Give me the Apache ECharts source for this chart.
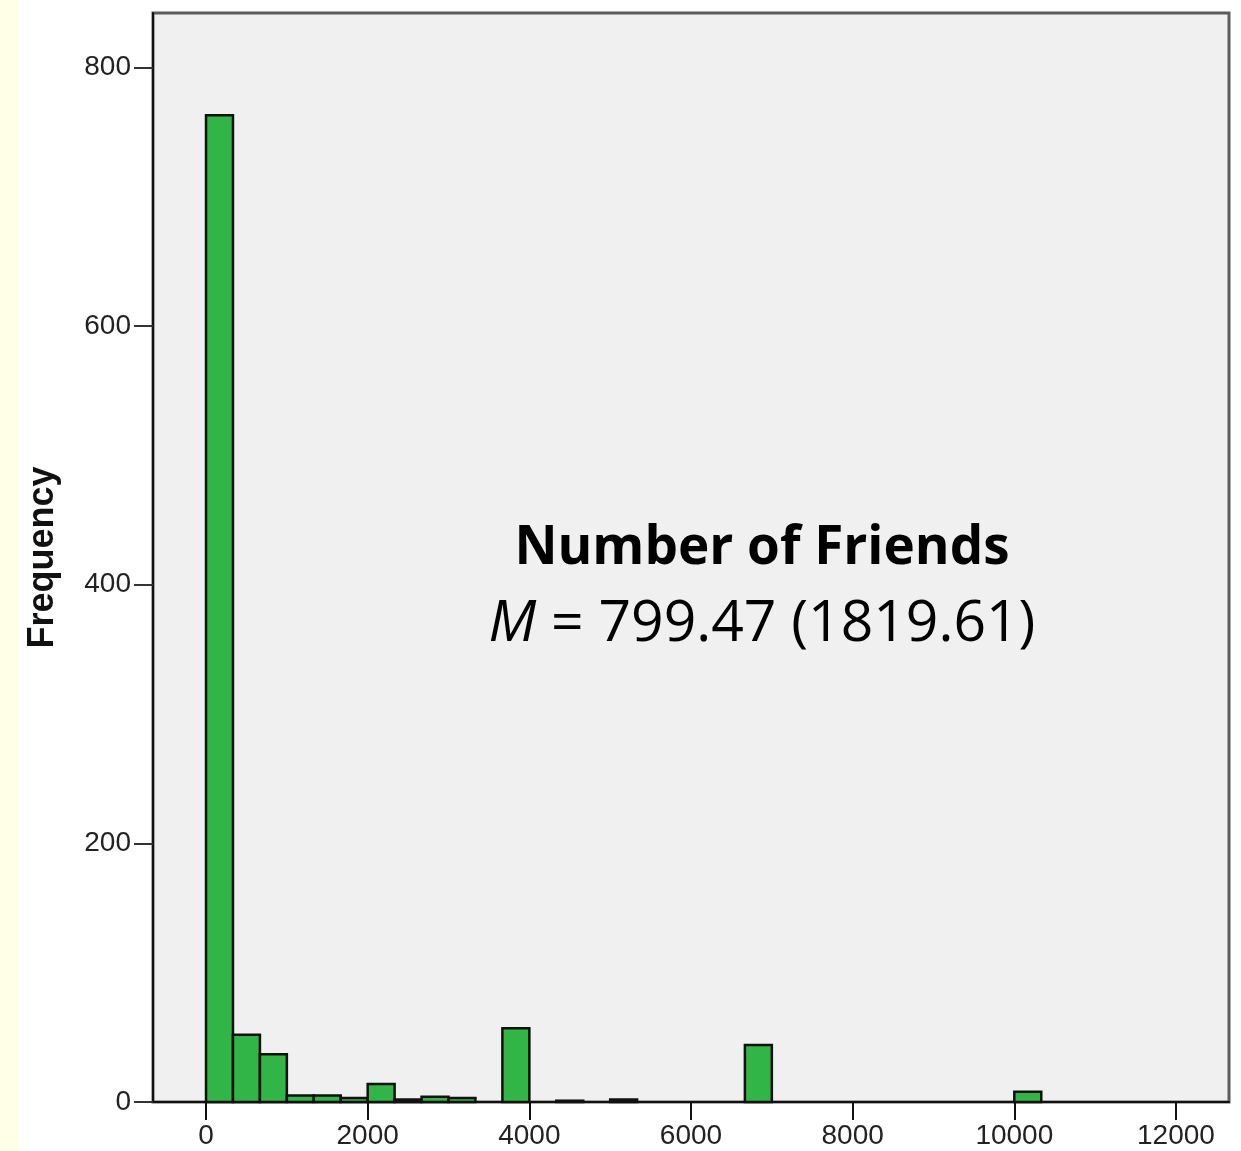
<!DOCTYPE html>
<html>
<head>
<meta charset="utf-8">
<script src="https://cdn.jsdelivr.net/npm/echarts@6/dist/echarts.min.js"></script>
<style>
  html, body { margin: 0; padding: 0; background: #ffffff; }
  #chart-panel { width: 1241px; height: 1151px; }
</style>
</head>
<body>
<div id="chart-panel"></div>
<script>
// histogram bins: 31 bins of equal width starting at 0
const binWidth = 10000 / 30
const counts = [763, 52, 37, 5, 5, 3, 14, 2, 4, 3, 0, 57, 0, 1, 0, 2,
                0, 0, 0, 0, 44, 0, 0, 0, 0, 0, 0, 0, 0, 0, 8]
const xTicks = [0, 2000, 4000, 6000, 8000, 10000, 12000]
const yTicks = [0, 200, 400, 600, 800]
const titleLine = 'Number of Friends'
const statLine = '{i|M} = 799.47 (1819.61)'

! function(){
    /* bins -> [start, end, count], empty bins are not drawn */
    let bins = []
    counts.map((c, i) => {
        if (c > 0) bins.push([i * binWidth, (i + 1) * binWidth, c])
    })

    let myChart = echarts.init(document.getElementById('chart-panel'))
    myChart.setOption({
        animation: false,
        backgroundColor: '#ffffff',
        grid: {
            left: 153, right: 12, top: 13, bottom: 49,
            show: true,
            backgroundColor: '#f0f0f0',
            borderColor: '#5c5c5c',
            borderWidth: 3
        },
        xAxis: {
            type: 'value',
            min: -656,
            max: 12656,
            splitLine: { show: false },
            axisLine: { onZero: false, lineStyle: { color: '#111', width: 2 } },
            axisTick: { customValues: xTicks, length: 18, lineStyle: { color: '#111', width: 2 } },
            axisLabel: {
                customValues: xTicks,
                formatter: v => String(v),
                margin: 20,
                color: '#222',
                fontFamily: 'Liberation Sans',
                fontSize: 28
            }
        },
        yAxis: {
            type: 'value',
            min: 0,
            max: 842,
            name: 'Frequency',
            nameLocation: 'middle',
            nameGap: 92,
            nameTextStyle: {
                fontFamily: 'Liberation Sans',
                fontWeight: 'bold',
                fontSize: 36,
                color: '#111'
            },
            splitLine: { show: false },
            axisLine: { show: true, onZero: false, lineStyle: { color: '#111', width: 2 } },
            axisTick: { show: true, customValues: yTicks, length: 19, lineStyle: { color: '#333', width: 2 } },
            axisLabel: {
                customValues: yTicks,
                margin: 22,
                color: '#222',
                fontFamily: 'Liberation Sans',
                fontSize: 28
            }
        },
        graphic: [
            {
                type: 'rect', left: 0, top: 0, z: -10,
                shape: { width: 19, height: 1151 },
                style: { fill: '#feffe6' }
            },
            {
                type: 'text', x: 762, y: 549, z: 10,
                style: {
                    text: titleLine,
                    font: 'bold 53px "Open Sans"',
                    fill: '#000',
                    textAlign: 'center',
                    textVerticalAlign: 'middle'
                }
            },
            {
                type: 'text', x: 762, y: 625, z: 10,
                style: {
                    text: statLine,
                    font: '57px "Open Sans"',
                    fill: '#000',
                    textAlign: 'center',
                    textVerticalAlign: 'middle',
                    rich: {
                        i: { fontStyle: 'italic', fontFamily: 'Open Sans', fontSize: 57 }
                    }
                }
            }
        ],
        series: [
            {
                type: 'custom',
                data: bins,
                encode: { x: [0, 1], y: 2 },
                renderItem: function (params, api) {
                    let p0 = api.coord([api.value(0), 0])
                    let p1 = api.coord([api.value(1), api.value(2)])
                    return {
                        type: 'rect',
                        shape: { x: p0[0], y: p1[1], width: p1[0] - p0[0], height: p0[1] - p1[1] },
                        style: { fill: '#30b546', stroke: '#111', lineWidth: 2.5 }
                    }
                }
            }
        ]
    })
}()
</script>
</body>
</html>
